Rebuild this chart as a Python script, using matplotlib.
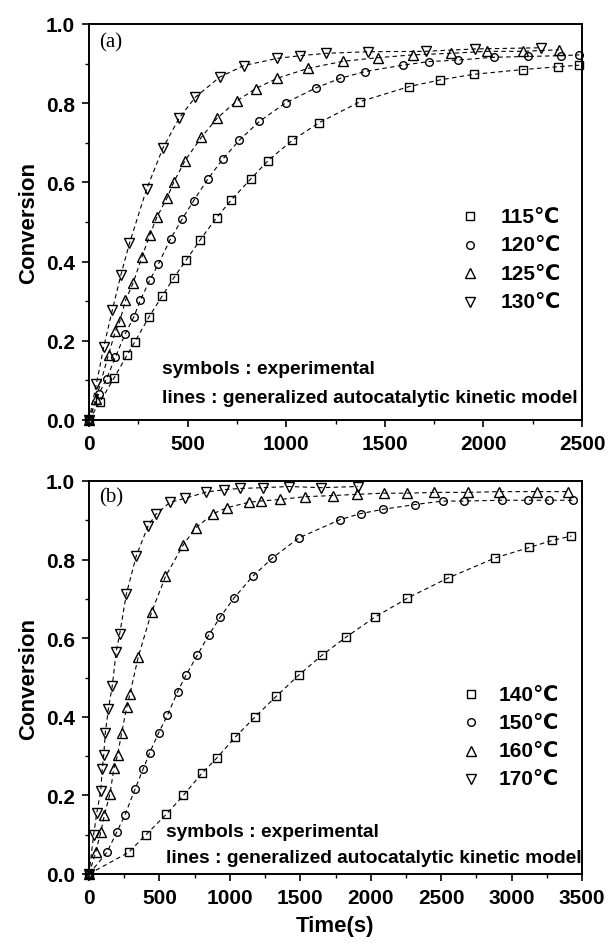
import matplotlib
matplotlib.use("Agg")
import matplotlib.pyplot as plt
from matplotlib.ticker import MultipleLocator

plt.rcParams['font.family'] = ['Liberation Sans', 'DejaVu Sans']

# ---------------- data: panel (a) ----------------
t115 = [0, 55, 128, 193, 233, 304, 371, 430, 493, 564, 647, 722, 819, 908, 1030, 1168, 1375, 1624, 1782, 1951, 2202, 2378, 2486]
c115 = [0, 0.045, 0.107, 0.164, 0.198, 0.260, 0.313, 0.359, 0.404, 0.455, 0.511, 0.556, 0.608, 0.655, 0.706, 0.751, 0.804, 0.842, 0.859, 0.873, 0.885, 0.892, 0.896]

t120 = [0, 49, 89, 134, 183, 227, 260, 308, 351, 414, 472, 531, 602, 677, 763, 864, 998, 1152, 1275, 1401, 1590, 1722, 1870, 2054, 2226, 2393, 2486]
c120 = [0, 0.065, 0.104, 0.159, 0.217, 0.260, 0.302, 0.353, 0.393, 0.458, 0.507, 0.554, 0.608, 0.658, 0.707, 0.754, 0.801, 0.839, 0.863, 0.880, 0.896, 0.905, 0.909, 0.916, 0.918, 0.920, 0.922]

t125 = [0, 36, 99, 134, 156, 185, 223, 268, 308, 345, 395, 430, 487, 570, 649, 748, 845, 955, 1111, 1290, 1466, 1642, 1835, 2017, 2200, 2382]
c125 = [0, 0.054, 0.165, 0.225, 0.249, 0.302, 0.345, 0.411, 0.467, 0.513, 0.560, 0.601, 0.655, 0.714, 0.762, 0.805, 0.837, 0.863, 0.888, 0.906, 0.915, 0.922, 0.926, 0.931, 0.931, 0.935]

t130 = [0, 37, 75, 118, 162, 205, 292, 375, 458, 539, 663, 785, 953, 1071, 1204, 1415, 1707, 1957, 2291]
c130 = [0, 0.090, 0.185, 0.277, 0.367, 0.446, 0.583, 0.687, 0.763, 0.815, 0.866, 0.895, 0.913, 0.920, 0.926, 0.930, 0.931, 0.937, 0.940]

# ---------------- data: panel (b) ----------------
t140 = [0, 281, 405, 549, 670, 803, 907, 1040, 1180, 1329, 1489, 1652, 1826, 2027, 2261, 2548, 2882, 3127, 3290, 3425]
c140 = [0, 0.055, 0.100, 0.152, 0.200, 0.257, 0.295, 0.349, 0.400, 0.452, 0.506, 0.556, 0.603, 0.653, 0.702, 0.753, 0.804, 0.831, 0.849, 0.860]

t150 = [0, 127, 199, 256, 328, 383, 430, 494, 557, 629, 689, 769, 852, 932, 1029, 1161, 1302, 1489, 1784, 1928, 2088, 2314, 2510, 2659, 2929, 3116, 3265, 3439]
c150 = [0, 0.055, 0.108, 0.151, 0.217, 0.266, 0.308, 0.359, 0.404, 0.464, 0.506, 0.557, 0.609, 0.654, 0.702, 0.757, 0.804, 0.855, 0.902, 0.917, 0.928, 0.940, 0.949, 0.949, 0.951, 0.951, 0.951, 0.951]

t160 = [0, 47, 83, 110, 149, 177, 204, 232, 268, 290, 350, 444, 543, 670, 758, 883, 979, 1136, 1219, 1357, 1531, 1732, 1900, 2093, 2261, 2452, 2694, 2912, 3177, 3398]
c160 = [0, 0.055, 0.106, 0.151, 0.204, 0.270, 0.304, 0.360, 0.424, 0.457, 0.553, 0.666, 0.757, 0.838, 0.881, 0.917, 0.932, 0.946, 0.949, 0.953, 0.960, 0.963, 0.966, 0.969, 0.969, 0.971, 0.971, 0.973, 0.973, 0.973]

t170 = [0, 33, 55, 83, 94, 105, 116, 138, 165, 193, 218, 265, 336, 419, 474, 576, 684, 833, 960, 1073, 1236, 1420, 1646, 1908]
c170 = [0, 0.100, 0.155, 0.211, 0.266, 0.304, 0.360, 0.421, 0.478, 0.566, 0.611, 0.712, 0.810, 0.885, 0.915, 0.946, 0.956, 0.972, 0.978, 0.981, 0.983, 0.986, 0.983, 0.986]

labels_a = ['115℃', '120℃', '125℃', '130℃']
labels_b = ['140℃', '150℃', '160℃', '170℃']
markers = ['s', 'o', '^', 'v']
msizes = [5.5, 5.5, 6.5, 6.5]
note1 = 'symbols : experimental'
note2 = 'lines : generalized autocatalytic kinetic model'

series_a = [(t115, c115), (t120, c120), (t125, c125), (t130, c130)]
series_b = [(t140, c140), (t150, c150), (t160, c160), (t170, c170)]

fig = plt.figure(figsize=(6.1, 9.45), dpi=100)
ax_a = fig.add_axes([89/610, 1-421/945, 493/610, 396/945])
ax_b = fig.add_axes([89/610, 1-875/945, 493/610, 393/945])

TFS = 15

def style(ax, xmax, xmaj):
    ax.set_xlim(0, xmax)
    ax.set_ylim(0, 1.0)
    ax.xaxis.set_major_locator(MultipleLocator(xmaj))
    ax.xaxis.set_minor_locator(MultipleLocator(xmaj/2))
    ax.yaxis.set_minor_locator(MultipleLocator(0.1))
    ax.set_yticks([0, 0.2, 0.4, 0.6, 0.8, 1.0])
    ax.set_yticklabels(['0.0', '0.2', '0.4', '0.6', '0.8', '1.0'])
    ax.tick_params(which='major', direction='out', length=5, width=1.2, pad=5,
                   labelsize=TFS)
    ax.tick_params(which='minor', direction='out', length=3, width=1.0)
    for lab in ax.get_xticklabels() + ax.get_yticklabels():
        lab.set_fontweight('bold')
    for sp in ax.spines.values():
        sp.set_linewidth(1.4)
    ax.set_ylabel('Conversion', fontsize=16, fontweight='bold', labelpad=5)

def draw(ax, series, labels, leg_x_m, leg_x_t, leg_y, dy, notes_xy):
    for (t, c), m, ms in zip(series, markers, msizes):
        ax.plot(t, c, linestyle=(0, (4, 3)), color='black', linewidth=0.8,
                marker=m, markersize=ms, markerfacecolor='none',
                markeredgecolor='black', markeredgewidth=1.0, clip_on=False)
    for i, (m, ms, lab) in enumerate(zip(markers, msizes, labels)):
        y = leg_y - i*dy
        ax.plot([leg_x_m], [y], marker=m, markersize=ms, markerfacecolor='none',
                markeredgecolor='black', markeredgewidth=1.0, linestyle='none',
                transform=ax.transAxes)
        ax.text(leg_x_t, y, lab, transform=ax.transAxes, fontsize=TFS,
                fontweight='bold', va='center', ha='left')
    (nx, ny1, ny2) = notes_xy
    ax.text(nx, ny1, note1, transform=ax.transAxes, fontsize=13.8,
            fontweight='bold', va='center', ha='left')
    ax.text(nx, ny2, note2, transform=ax.transAxes, fontsize=13.8,
            fontweight='bold', va='center', ha='left')

style(ax_a, 2500, 500)
style(ax_b, 3500, 500)
draw(ax_a, series_a, labels_a, 0.773, 0.835, 0.515, 0.072, (0.148, 0.129, 0.058))
draw(ax_b, series_b, labels_b, 0.775, 0.830, 0.458, 0.072, (0.156, 0.109, 0.043))

ax_a.text(0.02, 0.955, '(a)', transform=ax_a.transAxes, fontsize=15,
          family=['Liberation Serif', 'DejaVu Serif'], va='center', ha='left')
ax_b.text(0.02, 0.959, '(b)', transform=ax_b.transAxes, fontsize=15,
          family=['Liberation Serif', 'DejaVu Serif'], va='center', ha='left')

ax_b.set_xlabel('Time(s)', fontsize=16, fontweight='bold', labelpad=6)

fig.savefig('out.png', dpi=100)
